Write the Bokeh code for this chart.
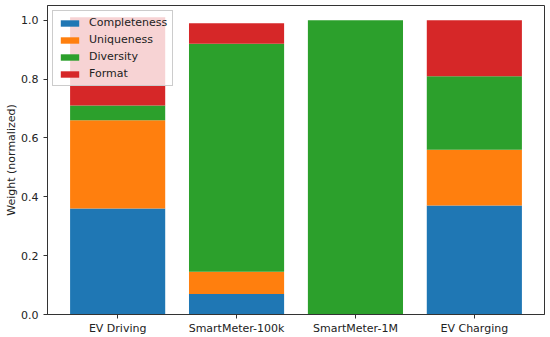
from bokeh.plotting import figure
from bokeh.models import ColumnDataSource, Range1d, FixedTicker, PrintfTickFormatter, Legend, LegendItem
from bokeh.embed import file_html
from bokeh.resources import INLINE

categories = ["EV Driving", "SmartMeter-100k", "SmartMeter-1M", "EV Charging"]
series = ["Completeness", "Uniqueness", "Diversity", "Format"]
completeness = [0.36, 0.07, 0.0, 0.37]
uniqueness = [0.30, 0.075, 0.0, 0.19]
diversity = [0.05, 0.775, 1.0, 0.25]
fmt = [0.30, 0.07, 0.0, 0.19]
colors = ["#1f77b4", "#ff7f0e", "#2ca02c", "#d62728"]
yticks = [0.0, 0.2, 0.4, 0.6, 0.8, 1.0]

xpos = list(range(len(categories)))
source = ColumnDataSource(dict(x=xpos, Completeness=completeness, Uniqueness=uniqueness,
                               Diversity=diversity, Format=fmt))

p = figure(frame_width=497, frame_height=309, output_backend="svg", toolbar_location=None,
           x_range=Range1d(-0.59, len(categories) - 1 + 0.59), y_range=Range1d(0, 1.05),
           min_border_left=47, min_border_right=4, min_border_top=5, min_border_bottom=22)

renderers = p.vbar_stack(series, x="x", width=0.8, source=source, color=colors, line_width=0)

p.legend.visible = False
legend = Legend(items=[LegendItem(label=s, renderers=[r]) for s, r in zip(series, renderers)],
                location="top_left")
legend.label_text_font = "DejaVu Sans"
legend.label_text_font_size = "11px"
legend.label_text_color = "#222222"
legend.glyph_width = 23
legend.glyph_height = 8
legend.label_standoff = 8
legend.spacing = 4
legend.padding = 5
legend.margin = 5
legend.label_height = 12
legend.border_line_color = "#cccccc"
legend.border_line_alpha = 1
legend.background_fill_alpha = 0.8
p.add_layout(legend)

p.xgrid.visible = False
p.ygrid.visible = False
p.outline_line_color = "#333333"
p.outline_line_width = 1
p.outline_line_alpha = 1

p.xaxis.ticker = FixedTicker(ticks=xpos)
p.xaxis.major_label_overrides = {i: c for i, c in zip(xpos, categories)}
p.yaxis.ticker = FixedTicker(ticks=yticks)
p.yaxis.formatter = PrintfTickFormatter(format="%.1f")
p.yaxis.axis_label = "Weight (normalized)"
p.yaxis.axis_label_text_font = "DejaVu Sans"
p.yaxis.axis_label_text_font_style = "normal"
p.yaxis.axis_label_text_font_size = "11px"
p.yaxis.axis_label_text_color = "#222222"
p.yaxis.axis_label_standoff = 0
for ax in (p.xaxis, p.yaxis):
    ax.major_label_text_font = "DejaVu Sans"
    ax.major_label_text_font_size = "11px"
    ax.major_label_text_color = "#222222"
    ax.axis_line_color = "#333333"
    ax.major_tick_line_color = "#333333"
    ax.major_tick_out = 4
    ax.major_tick_in = 0
    ax.minor_tick_out = 0
    ax.minor_tick_in = 0
p.xaxis.major_label_standoff = 3
p.yaxis.major_label_standoff = 5

open("out.html", "w").write(file_html(p, INLINE))
